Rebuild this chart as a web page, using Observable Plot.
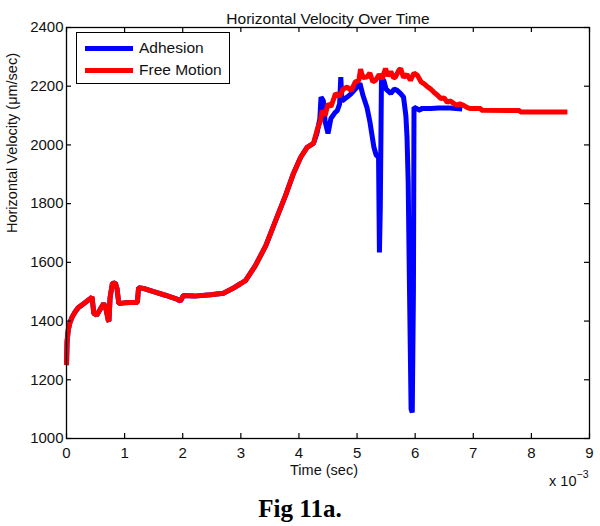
<!DOCTYPE html>
<html>
<head>
<meta charset="utf-8">
<script src="https://cdn.jsdelivr.net/npm/d3@7"></script>
<script src="https://cdn.jsdelivr.net/npm/@observablehq/plot@0.6"></script>
<style>
  html, body { margin: 0; padding: 0; background: #fff; }
  #wrap { position: relative; width: 600px; height: 526px; overflow: hidden; }
  #legend { position: absolute; left: 76px; top: 32px; width: 152px; height: 50px;
            border: 1.5px solid #000; background: #fff;
            font-family: "Liberation Sans", Arial, sans-serif; font-size: 15.5px; color: #111; }
  #legend .row { position: absolute; left: 0; height: 20px; display: flex; align-items: center; }
  #legend .sw { width: 48px; height: 5px; margin-left: 8px; margin-right: 6px; }
  #caption { position: absolute; left: 0; top: 495px; width: 600px; text-align: center;
             font-family: "Liberation Serif", "Times New Roman", serif; font-weight: bold; font-size: 25px; color: #000; line-height: 28px; }
</style>
</head>
<body>
<div id="wrap"></div>
<script>
// Time values in units of 1e-3 s (axis shows "x 10^-3")
const freeT = [0, 0.01, 0.03, 0.06, 0.1, 0.15, 0.2, 0.3, 0.4, 0.44, 0.47, 0.52, 0.58, 0.64, 0.68, 0.72, 0.73, 0.75, 0.79, 0.84, 0.87, 0.9, 1.0, 1.1, 1.22, 1.24, 1.35, 1.5, 1.7, 1.9, 1.96, 2.01, 2.2, 2.48, 2.7, 2.85, 3.0, 3.08, 3.25, 3.43, 3.6, 3.77, 3.9, 4.03, 4.14, 4.25, 4.31, 4.37, 4.40, 4.45, 4.5, 4.55, 4.63, 4.7, 4.76, 4.83, 4.9, 4.97, 5.03, 5.06, 5.1, 5.17, 5.22, 5.27, 5.32, 5.38, 5.43, 5.49, 5.53, 5.58, 5.63, 5.66, 5.72, 5.75, 5.8, 5.86, 5.92, 5.98, 6.04, 6.1, 6.15, 6.2, 6.27, 6.32, 6.38, 6.44, 6.5, 6.55, 6.6, 6.67, 6.72, 6.77, 6.84, 6.9, 6.95, 7.13, 7.14, 7.8, 7.81, 8.62];
const freeV = [1250, 1330, 1370, 1395, 1415, 1432, 1445, 1460, 1475, 1482, 1426, 1420, 1440, 1460, 1440, 1402, 1400, 1480, 1528, 1530, 1510, 1460, 1462, 1463, 1463, 1514, 1510, 1500, 1488, 1475, 1468, 1487, 1485, 1490, 1495, 1510, 1528, 1538, 1589, 1657, 1743, 1828, 1900, 1958, 1992, 2005, 2049, 2083, 2117, 2100, 2140, 2130, 2175, 2165, 2190, 2197, 2185, 2215, 2219, 2258, 2230, 2231, 2245, 2215, 2220, 2240, 2225, 2260, 2235, 2250, 2228, 2231, 2255, 2260, 2230, 2240, 2220, 2245, 2237, 2215, 2209, 2200, 2190, 2180, 2170, 2158, 2160, 2145, 2150, 2141, 2135, 2140, 2134, 2127, 2124, 2124, 2118, 2117, 2112, 2112];

const adhT = [0, 0.01, 0.03, 0.06, 0.1, 0.15, 0.2, 0.3, 0.4, 0.44, 0.47, 0.52, 0.58, 0.64, 0.68, 0.72, 0.73, 0.75, 0.79, 0.84, 0.87, 0.9, 1.0, 1.1, 1.22, 1.24, 1.35, 1.5, 1.7, 1.9, 1.96, 2.01, 2.2, 2.48, 2.7, 2.85, 3.0, 3.08, 3.25, 3.43, 3.6, 3.77, 3.9, 4.03, 4.14, 4.25, 4.31, 4.36, 4.38, 4.42, 4.45, 4.5, 4.55, 4.62, 4.66, 4.70, 4.72, 4.74, 4.83, 4.9, 5.0, 5.05, 5.1, 5.17, 5.22, 5.29, 5.33, 5.37, 5.385, 5.40, 5.42, 5.46, 5.5, 5.58, 5.64, 5.69, 5.75, 5.80, 5.84, 5.86, 5.88, 5.9, 5.93, 5.95, 5.97, 5.98, 6.09, 6.1, 6.27, 6.4, 6.6, 6.81];
const adhV = [1250, 1330, 1370, 1395, 1415, 1432, 1445, 1460, 1475, 1482, 1426, 1420, 1440, 1460, 1440, 1402, 1400, 1480, 1528, 1530, 1510, 1460, 1462, 1463, 1463, 1514, 1510, 1500, 1488, 1475, 1468, 1487, 1485, 1490, 1495, 1510, 1528, 1538, 1589, 1657, 1743, 1828, 1900, 1958, 1992, 2005, 2040, 2090, 2163, 2150, 2080, 2039, 2090, 2110, 2117, 2140, 2231, 2150, 2163, 2175, 2197, 2210, 2170, 2128, 2080, 1992, 1965, 1958, 1634, 1787, 2225, 2220, 2190, 2175, 2190, 2186, 2175, 2163, 2100, 2026, 1872, 1549, 1100, 1089, 1500, 2128, 2117, 2124, 2124, 2126, 2126, 2122];

const xTicks = [0, 1, 2, 3, 4, 5, 6, 7, 8, 9];
const yTicks = [1000, 1200, 1400, 1600, 1800, 2000, 2200, 2400];
const seriesNames = ["Adhesion", "Free Motion"];
const seriesColors = ["#0000ff", "#ff0000"];

const free = freeT.map((t, i) => ({t, v: freeV[i]}));
const adhesion = adhT.map((t, i) => ({t, v: adhV[i]}));

const font = "'Liberation Sans', Arial, sans-serif";
const W = 600, H = 490, mL = 66, mR = 11, mT = 27, mB = 52;
const frameW = W - mL - mR, frameH = H - mT - mB, tickLen = 5;

const chart = Plot.plot({
  width: W,
  height: H,
  marginLeft: mL,
  marginRight: mR,
  marginTop: mT,
  marginBottom: mB,
  style: {fontFamily: font, fontSize: "15px", color: "#111", background: "#fff", overflow: "visible"},
  x: {domain: [0, 9]},
  y: {domain: [1000, 2400]},
  marks: [
    Plot.line(adhesion, {x: "t", y: "v", stroke: seriesColors[0], strokeWidth: 5, strokeLinejoin: "miter", strokeLinecap: "butt"}),
    Plot.line(free, {x: "t", y: "v", stroke: seriesColors[1], strokeWidth: 5, strokeLinejoin: "miter", strokeLinecap: "butt"}),
    Plot.frame({stroke: "#000", strokeWidth: 1.3}),
    // inward ticks (MATLAB style)
    Plot.tickX(xTicks, {x: d => d, insetTop: frameH - tickLen, stroke: "#000", strokeWidth: 1.2}),
    Plot.tickX(xTicks, {x: d => d, insetBottom: frameH - tickLen, stroke: "#000", strokeWidth: 1.2}),
    Plot.tickY(yTicks, {y: d => d, insetRight: frameW - tickLen, stroke: "#000", strokeWidth: 1.2}),
    Plot.tickY(yTicks, {y: d => d, insetLeft: frameW - tickLen, stroke: "#000", strokeWidth: 1.2}),
    Plot.axisX(xTicks, {anchor: "bottom", tickSize: 0, tickPadding: 9, label: null, fontSize: 15, tickFormat: d => String(d)}),
    Plot.axisY(yTicks, {anchor: "left", tickSize: 0, tickPadding: 3, label: null, fontSize: 15, tickFormat: d => String(d)}),
    Plot.text(["Horizontal Velocity Over Time"], {frameAnchor: "top", dy: -15, fontSize: 15.5}),
    Plot.text(["Time (sec)"], {frameAnchor: "bottom", dy: 36, dx: -4, fontSize: 14.5}),
    Plot.text(["Horizontal Velocity (μm/sec)"], {frameAnchor: "left", rotate: -90, dx: -54, fontSize: 14.5}),
    Plot.text(["x 10"], {frameAnchor: "bottom-right", textAnchor: "end", dx: -13, dy: 47, fontSize: 14.5}),
    Plot.text(["−3"], {frameAnchor: "bottom-right", textAnchor: "start", dx: -13, dy: 39, fontSize: 10.5})
  ]
});

const wrap = document.getElementById("wrap");
wrap.appendChild(chart);

const legend = document.createElement("div");
legend.id = "legend";
seriesNames.forEach((name, i) => {
  const row = document.createElement("div");
  row.className = "row";
  row.style.top = (5 + i * 22) + "px";
  const sw = document.createElement("div");
  sw.className = "sw";
  sw.style.background = seriesColors[i];
  const label = document.createElement("span");
  label.textContent = name;
  row.appendChild(sw);
  row.appendChild(label);
  legend.appendChild(row);
});
wrap.appendChild(legend);

const cap = document.createElement("div");
cap.id = "caption";
cap.textContent = "Fig 11a.";
wrap.appendChild(cap);
</script>
</body>
</html>
